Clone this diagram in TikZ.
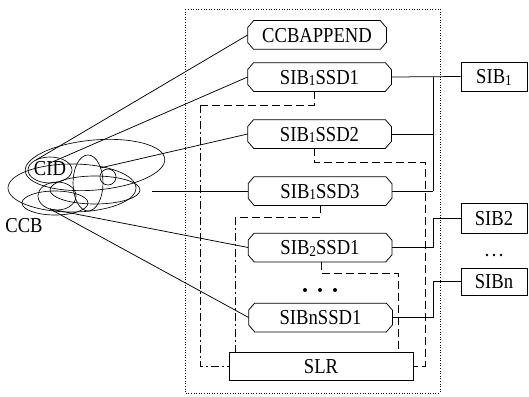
\documentclass[tikz,border=0pt]{standalone}
\usepackage{fontspec}
\setmainfont{Liberation Serif}
\newcommand\sdg[1]{\raisebox{-1.5pt}{\fontsize{13.5}{13.5}\selectfont #1}}
\newcommand\tx[1]{\scalebox{0.98}[1.12]{#1}}
\newcommand\ssdnode[4][143pt]{%
  \node[ssdin,minimum width=#1] (#2) at (#3) {\tx{#4}};
  \draw ([xshift=6pt]#2.north west) -- ([xshift=-6pt]#2.north east) -- ([yshift=-7pt]#2.north east)
     -- ([yshift=7pt]#2.south east) -- ([xshift=-6pt]#2.south east) -- ([xshift=6pt]#2.south west)
     -- ([yshift=7pt]#2.south west) -- ([yshift=-7pt]#2.north west) -- cycle;}
\begin{document}
\begin{tikzpicture}[x=1pt,y=-1pt,line width=0.75pt,
  every node/.style={font=\fontsize{19}{22}\selectfont},
  ssdin/.style={rectangle,minimum height=28pt,inner sep=0pt,text height=14pt,text depth=0pt},
  sbox/.style={draw,rectangle,minimum width=66pt,minimum height=29pt,inner sep=0pt,text height=14pt,text depth=0pt},
  dsh/.style={dash pattern=on 8pt off 4pt},
  dsd/.style={dash pattern=on 8pt off 3pt on 2pt off 3pt}]
\useasboundingbox (0,0) rectangle (529,396);
% dotted frame
\draw[line width=0.6pt,dash pattern=on 1pt off 1.6pt] (185,9) rectangle (440,393);
% CCB cluster
\begin{scope}[line width=0.65pt]
\draw (95,165) ellipse [x radius=70pt,y radius=25pt,rotate=5];
\draw (72,188) ellipse [x radius=64pt,y radius=24pt];
\draw (50,170) ellipse [x radius=22pt,y radius=13pt];
\draw (88,183) ellipse [x radius=15pt,y radius=28pt];
\draw (108,177) circle [radius=8pt];
\draw (55,203) ellipse [x radius=33pt,y radius=12pt];
\draw (57,196) ellipse [x radius=19pt,y radius=14pt];
\draw (95,190) ellipse [x radius=45pt,y radius=14pt];
\end{scope}
\node[inner sep=0pt] (cid) at (50,169) {\tx{CID}};
\node[inner sep=0pt] (ccb) at (24,226) {\tx{CCB}};
\coordinate (o1) at (36,160);
\coordinate (o2) at (50,163);
\coordinate (o3) at (100,168);
\coordinate (o4) at (152,191);
\coordinate (o5) at (50,209);
% SSD nodes
\ssdnode[138pt]{app}{317,35}{CCBAPPEND}
\ssdnode{s11}{319.5,77}{SIB\sdg{1}SSD1}
\ssdnode{s12}{319.5,134}{SIB\sdg{1}SSD2}
\ssdnode{s13}{320,191}{SIB\sdg{1}SSD3}
\ssdnode{s21}{320,247.5}{SIB\sdg{2}SSD1}
\ssdnode{sn1}{320.5,317.5}{SIBnSSD1}
\node[draw,rectangle,minimum width=184pt,minimum height=28pt,inner sep=0pt,text height=14pt,text depth=0pt] (slr) at (321,366) {\tx{SLR}};
\fill (305,290) circle (2pt) (320,290) circle (2pt) (335,290) circle (2pt);
% SIB boxes
\node[sbox] (b1) at (494,76.5) {\tx{SIB\sdg{1}}};
\node[sbox,minimum height=30pt] (b2) at (494,218) {\tx{SIB2}};
\node[sbox,minimum height=27pt] (bn) at (494,281.5) {\tx{SIBn}};
\fill (487,255) circle (1.4pt) (494,255) circle (1.4pt) (501,255) circle (1.4pt);
% CCB lines
\draw (o1) -- (app.west);
\draw (o2) -- (s11.west);
\draw (o3) -- (s12.west);
\draw (o4) -- (s13.west);
\draw (o5) -- (s21.west);
\draw (o5) -- (sn1.west);
% right side connections
\coordinate (bt) at (433,77);
\coordinate (bb) at (433,191);
\draw (s11.east) -- (b1.west);
\draw (bt) -- (bb);
\draw (s12.east) -- (s12.east -| bt);
\draw (s13.east) -- (bb);
\draw (b2.west) -- (b2.west -| bt) |- (s21.east);
\draw (bn.west) -- (bn.west -| bt) |- (sn1.east);
% dashed links to SLR
\coordinate (d1a) at (200,105);
\draw[dsh] ([xshift=-5.5pt]s11.south) |- (d1a);
\draw[dsd] (d1a) |- (slr.west);
\coordinate (d2a) at (425,162);
\draw[dsh] ([xshift=-5.5pt]s12.south) |- (d2a) |- (slr.east);
\coordinate (d3a) at (235,217);
\draw[dsh] (s13.south) |- (d3a);
\draw[dsd] (d3a) -- (d3a |- slr.north);
\coordinate (d4a) at (398,273);
\draw[dsh] ([xshift=1pt]s21.south) |- (d4a) -- (d4a |- slr.north);
\end{tikzpicture}
\end{document}
